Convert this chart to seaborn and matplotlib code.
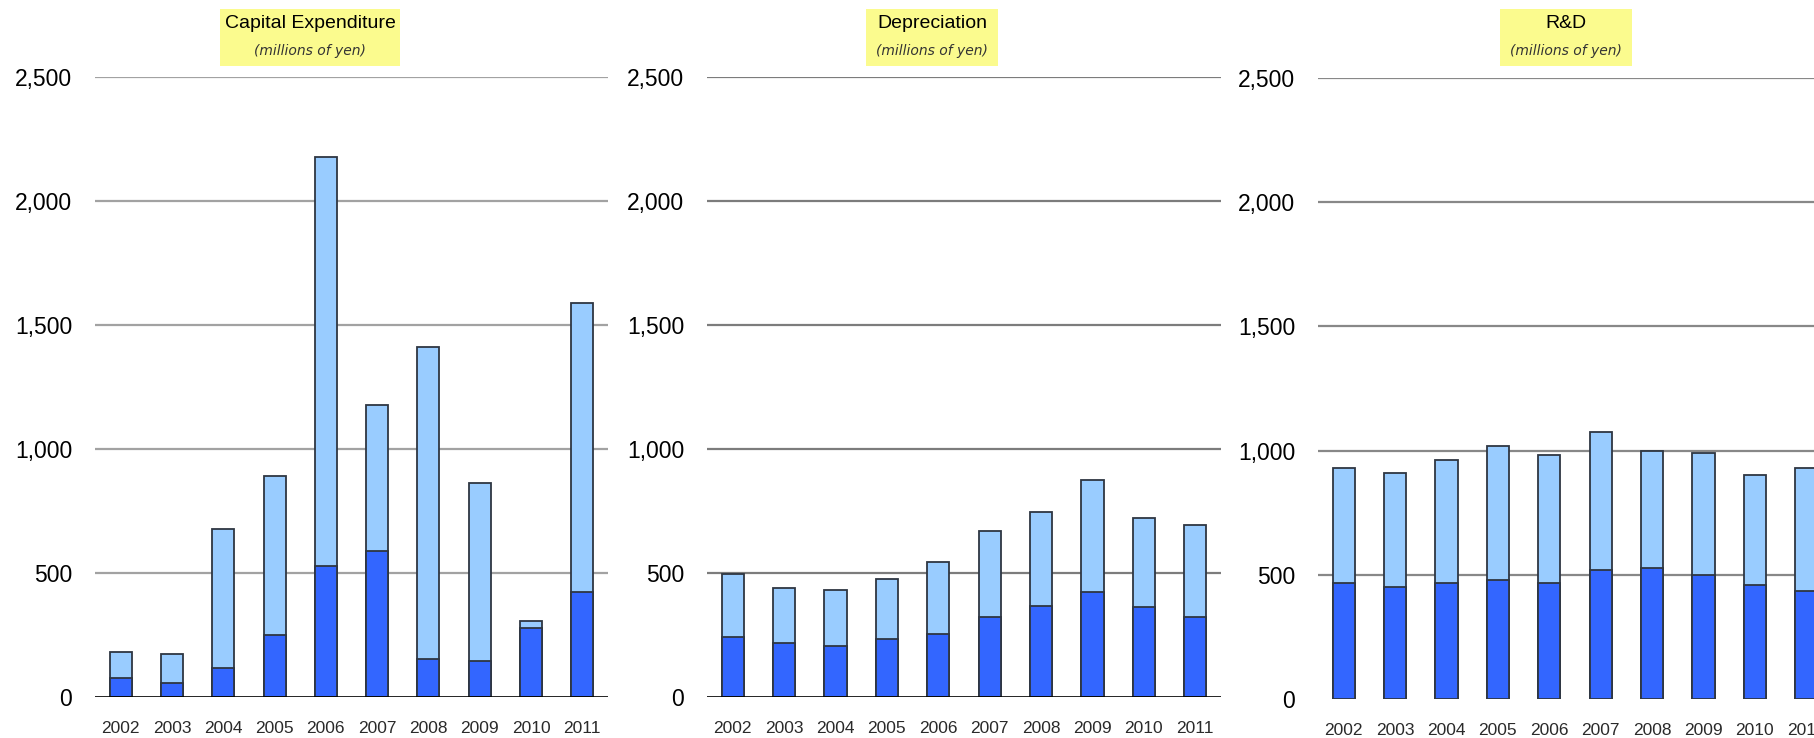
import matplotlib
matplotlib.use("Agg")
import matplotlib.pyplot as plt
import seaborn as sns
import numpy as np
from matplotlib.patches import Rectangle

# ---------------- data ----------------
years = ["2002", "2003", "2004", "2005", "2006", "2007", "2008", "2009", "2010", "2011"]

capex_total = [181, 173, 677, 891, 2176, 1177, 1412, 863, 308, 1590]
capex_lower = [77, 57, 115, 251, 528, 587, 155, 144, 277, 424]

dep_total = [497, 438, 431, 477, 546, 668, 745, 875, 722, 692]
dep_lower = [241, 219, 204, 232, 255, 324, 367, 423, 361, 324]

rd_total = [930, 910, 961, 1020, 984, 1074, 1000, 991, 903, 930]
rd_lower = [469, 451, 469, 481, 469, 519, 526, 501, 458, 435]

y_ticks = [0, 500, 1000, 1500, 2000, 2500]
y_tick_labels = ["0", "500", "1,000", "1,500", "2,000", "2,500"]

titles = ["Capital Expenditure", "Depreciation", "R&D"]
subtitle = "(millions of yen)"

# ---------------- style ----------------
sns.set_theme(style="white")
plt.rcParams["font.family"] = ["Liberation Sans", "DejaVu Sans"]

LIGHT = "#99ccff"
DARK = "#3366ff"
EDGE = "#2e3642"

W, H = 1815, 738
fig = plt.figure(figsize=(W / 100, H / 100), dpi=100)
fig.patch.set_facecolor("white")


def add_ax(l, r, top, bottom):
    return fig.add_axes([l / W, 1 - bottom / H, (r - l) / W, (bottom - top) / H])


panels = [
    dict(box=(95, 608, 77, 697), tot=capex_total, low=capex_lower, grid="#a2a2a2",
         base=True, tx=310, bx=(220, 400)),
    dict(box=(707, 1221, 77, 697), tot=dep_total, low=dep_lower, grid="#7c7c7c",
         base=True, tx=932, bx=(866, 998)),
    dict(box=(1318, 1832, 78, 699), tot=rd_total, low=rd_lower, grid="#888888",
         base=False, tx=1566, bx=(1500, 1632)),
]

for i, p in enumerate(panels):
    ax = add_ax(*p["box"])
    sns.barplot(x=years, y=p["tot"], color=LIGHT, saturation=1, width=0.43,
                edgecolor=EDGE, linewidth=1.3, ax=ax, zorder=2)
    sns.barplot(x=years, y=p["low"], color=DARK, saturation=1, width=0.43,
                edgecolor=EDGE, linewidth=1.3, ax=ax, zorder=3)
    ax.set_xlim(-0.5, 9.5)
    ax.set_ylim(0, 2500)
    ax.set_xlabel("")
    ax.set_ylabel("")
    ax.set_yticks(y_ticks)
    ax.set_yticklabels(y_tick_labels)
    ax.tick_params(axis="y", length=0, pad=16.5, labelsize=16.5, labelcolor="black")
    ax.tick_params(axis="x", which="major", length=0, pad=17, labelsize=12.5,
                   labelcolor="#2a2a2a")
    ax.set_xticks(np.arange(-0.5, 10, 1), minor=True)
    ax.tick_params(axis="x", which="minor", direction="in", length=5,
                   width=1, color="#cfcfcf")
    ax.grid(axis="y", color=p["grid"], linewidth=1.6)
    ax.grid(axis="x", visible=False)
    ax.set_axisbelow(True)
    ax.get_ygridlines()[0].set_visible(False)
    for s in ax.spines.values():
        s.set_visible(False)
    ax.set_facecolor("none")
    if p["base"]:
        ax.axhline(0, color="black", linewidth=1.2, zorder=4)

    # title box
    x0, x1 = p["bx"]
    fig.patches.append(Rectangle((x0 / W, 1 - 66 / H), (x1 - x0) / W, 57 / H,
                                 transform=fig.transFigure, facecolor="#fbfb8e",
                                 edgecolor="none", zorder=0))
    fig.text(p["tx"] / W, 1 - 24 / H, titles[i], ha="center", va="center",
             fontsize=14, color="black")
    fig.text(p["tx"] / W, 1 - 51 / H, subtitle, ha="center", va="center",
             fontsize=10, style="italic", color="#333333",
             family=["DejaVu Sans"])

fig.savefig("out.png", dpi=100, facecolor="white")
